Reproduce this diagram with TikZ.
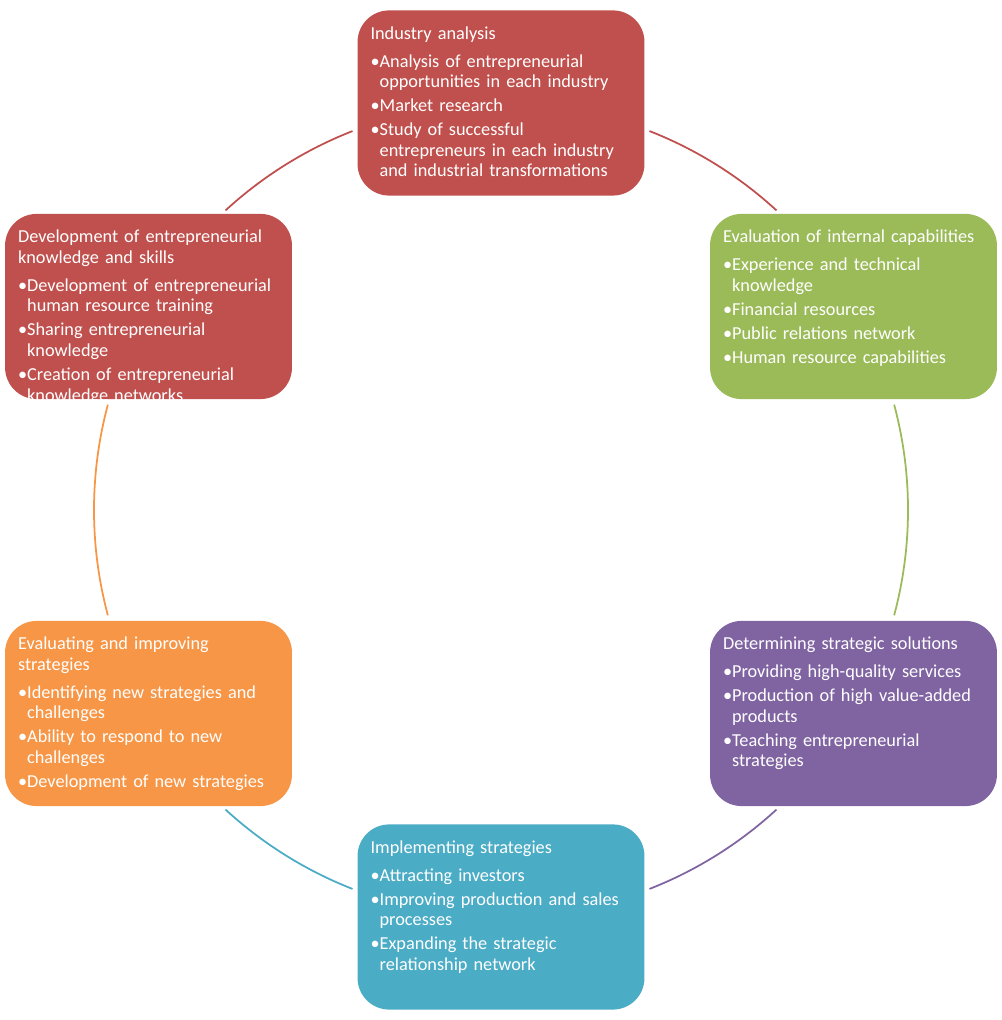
\documentclass[tikz,border=0pt]{standalone}
\usepackage{fontspec}
\setmainfont{Carlito}

\definecolor{indred}{HTML}{C0504D}
\definecolor{capgreen}{HTML}{9BBB59}
\definecolor{solpurple}{HTML}{8064A2}
\definecolor{impteal}{HTML}{4BACC6}
\definecolor{evalorange}{HTML}{F79646}

% title line and bullet items inside a stage box
\newlength\bulw
\newcommand\hd[1]{#1\par\vspace{2.3pt}}
\newcommand\bul[1]{\par\vspace{2pt}\settowidth\bulw{\textbullet}%
  \hangindent\bulw\hangafter1\noindent\textbullet#1\par}

\begin{document}
\begin{tikzpicture}[
	x = 0.02cm, y = 0.02cm, % one unit is one pixel of the layout
	stage/.style = {
		rounded corners = 18pt,
		minimum width = 163.3pt,
		minimum height = 105.4pt,
		inner sep = 0pt
		},
	txt/.style = {
		anchor = north west,
		inner sep = 0pt,
		text width = 158pt,
		align = left,
		text = white,
		font = \fontsize{10.4pt}{11.7pt}\selectfont
		},
	ring/.style = {draw = #1, line width = 1pt}
	]
	
	\useasboundingbox (0,0) rectangle (1001,1020);
	
	\coordinate (o) at (501,510); % centre of the ring
	
	\node[stage, fill=indred] (ind) at ([shift={(90:407)}]o) {};
	\node[stage, fill=capgreen] (cap) at ([shift={(30:407)}]o) {};
	\node[stage, fill=solpurple] (sol) at ([shift={(-30:407)}]o) {};
	\node[stage, fill=impteal] (imp) at ([shift={(-90:407)}]o) {};
	\node[stage, fill=evalorange] (eval) at ([shift={(-150:407)}]o) {};
	\node[stage, fill=indred] (dev) at ([shift={(150:407)}]o) {};
	
	\node[txt] (indt) at ([shift={(13,-16)}]ind.north west) {\hd{Industry analysis}%
		\bul{Analysis of entrepreneurial\newline opportunities in each industry}%
		\bul{Market research}%
		\bul{Study of successful\newline entrepreneurs in each industry\newline and industrial transformations}};
	
	\node[txt] (capt) at ([shift={(13,-16)}]cap.north west) {\hd{Evaluation of internal capabilities}%
		\bul{Experience and technical\newline knowledge}%
		\bul{Financial resources}%
		\bul{Public relations network}%
		\bul{Human resource capabilities}};
	
	\node[txt] (solt) at ([shift={(13,-16)}]sol.north west) {\hd{Determining strategic solutions}%
		\bul{Providing high-quality services}%
		\bul{Production of high value-added\newline products}%
		\bul{Teaching entrepreneurial\newline strategies}};
	
	\node[txt] (impt) at ([shift={(13,-16)}]imp.north west) {\hd{Implementing strategies}%
		\bul{Attracting investors}%
		\bul{Improving production and sales\newline processes}%
		\bul{Expanding the strategic\newline relationship network}};
	
	\node[txt] (evalt) at ([shift={(13,-16)}]eval.north west) {\hd{Evaluating and improving\newline strategies}%
		\bul{Identifying new strategies and\newline challenges}%
		\bul{Ability to respond to new\newline challenges}%
		\bul{Development of new strategies}};
	
	\begin{scope}
		\clip (dev.south west) rectangle (dev.north east);
		\node[txt] (devt) at ([shift={(13,-16)}]dev.north west) {\hd{Development of entrepreneurial\newline knowledge and skills}%
			\bul{Development of entrepreneurial\newline human resource training}%
			\bul{Sharing entrepreneurial\newline knowledge}%
			\bul{Creation of entrepreneurial\newline knowledge networks}};
	\end{scope}
	
	% ring segments between the stages
	\draw[ring=indred] (o) ++(68.6:407) arc[start angle=68.6, end angle=47.4, radius=407];
	\draw[ring=capgreen] (o) ++(15:407) arc[start angle=15, end angle=-15, radius=407];
	\draw[ring=solpurple] (o) ++(-47.4:407) arc[start angle=-47.4, end angle=-68.6, radius=407];
	\draw[ring=impteal] (o) ++(-111.4:407) arc[start angle=-111.4, end angle=-132.6, radius=407];
	\draw[ring=evalorange] (o) ++(-165:407) arc[start angle=-165, end angle=-195, radius=407];
	\draw[ring=indred] (o) ++(132.6:407) arc[start angle=132.6, end angle=111.4, radius=407];
	
\end{tikzpicture}
\end{document}
